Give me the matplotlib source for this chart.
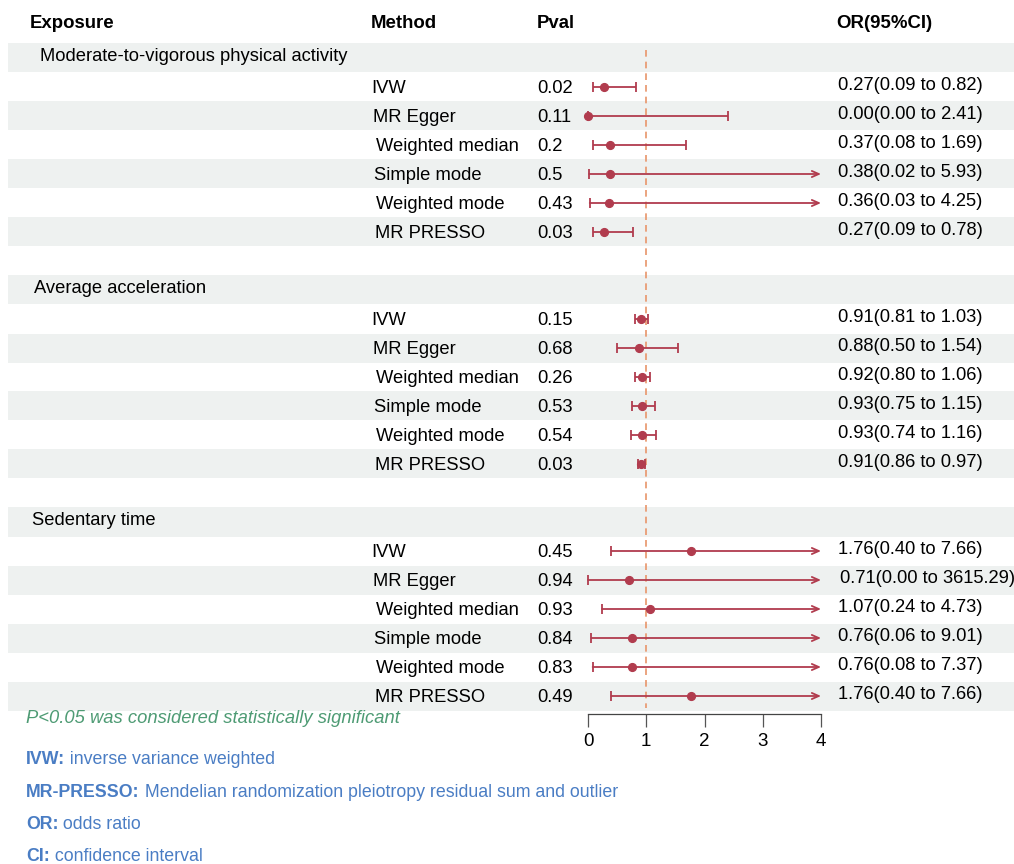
import matplotlib
matplotlib.use("Agg")
import matplotlib.pyplot as plt
import numpy as np

plt.rcParams["font.family"] = ["Liberation Sans", "DejaVu Sans"]

# groups and methods
exposures = ["Moderate-to-vigorous physical activity", "Average acceleration", "Sedentary time"]
methods = ["IVW", "MR Egger", "Weighted median", "Simple mode", "Weighted mode", "MR PRESSO"]

# per exposure: OR, lower, upper, p value text
or_mvpa = [0.27, 0.00, 0.37, 0.38, 0.36, 0.27]
lo_mvpa = [0.09, 0.00, 0.08, 0.02, 0.03, 0.09]
hi_mvpa = [0.82, 2.41, 1.69, 5.93, 4.25, 0.78]
p_mvpa = ["0.02", "0.11", "0.2", "0.5", "0.43", "0.03"]

or_acc = [0.91, 0.88, 0.92, 0.93, 0.93, 0.91]
lo_acc = [0.81, 0.50, 0.80, 0.75, 0.74, 0.86]
hi_acc = [1.03, 1.54, 1.06, 1.15, 1.16, 0.97]
p_acc = ["0.15", "0.68", "0.26", "0.53", "0.54", "0.03"]

or_sed = [1.76, 0.71, 1.07, 0.76, 0.76, 1.76]
lo_sed = [0.40, 0.00, 0.24, 0.06, 0.08, 0.40]
hi_sed = [7.66, 3615.29, 4.73, 9.01, 7.37, 7.66]
p_sed = ["0.45", "0.94", "0.93", "0.84", "0.83", "0.49"]

xticks = [0, 1, 2, 3, 4]
notes = [("IVW:", "inverse variance weighted"),
         ("MR-PRESSO:", "Mendelian randomization pleiotropy residual sum and outlier"),
         ("OR:", "odds ratio"),
         ("CI:", "confidence interval")]

groups = [(or_mvpa, lo_mvpa, hi_mvpa, p_mvpa),
          (or_acc, lo_acc, hi_acc, p_acc),
          (or_sed, lo_sed, hi_sed, p_sed)]

red = "#B13C4E"
band = "#EEF1F0"
W, H = 1014, 864
row0, rowh = 58, 29  # pixel centre of first row, row height
fs = 13.2


def row_of(py):
    return (py - row0) / rowh


fig = plt.figure(figsize=(W / 100, H / 100), dpi=100)
tab = fig.add_axes([0, 0, 1, 1])
tab.set_xlim(0, W)
tab.set_ylim(row_of(H), row_of(0))
tab.axis("off")

# header
hy = row_of(24)
for x, t in [(30, "Exposure"), (371, "Method"), (537, "Pval"), (836, "OR(95%CI)")]:
    tab.text(x, hy, t, fontsize=13.4, fontweight="bold", va="center")

method_x = [371, 373, 376, 374, 376, 375]
grp_x = [40, 34, 32]

rows = []  # (row index, or, lo, hi)
r = 0
for g, (orv, lov, hiv, pv) in enumerate(groups):
    tab.axhspan(r - 0.5, r + 0.5, xmin=8 / W, xmax=1, color=band, lw=0, zorder=0)
    tab.text(grp_x[g], r - 0.06, exposures[g], fontsize=fs, va="center")
    r += 1
    for i, m in enumerate(methods):
        if r % 2 == 0:
            tab.axhspan(r - 0.5, r + 0.5, xmin=8 / W, xmax=1, color=band, lw=0, zorder=0)
        tab.text(method_x[i], r + 0.05, m, fontsize=fs, va="center")
        tab.text(537, r + 0.05, pv[i], fontsize=fs, va="center")
        lab = "{:.2f}({:.2f} to {:.2f})".format(orv[i], lov[i], hiv[i])
        tab.text(838 if hiv[i] < 1000 else 840, r - 0.05, lab, fontsize=fs, va="center")
        rows.append((r, orv[i], lov[i], hiv[i]))
        r += 1
    r += 1

# forest panel
x0, x1 = 588, 821
ybot, ytop = 714, 43
ax = fig.add_axes([x0 / W, (H - ybot) / H, (x1 - x0) / W, (ybot - ytop) / H])
ax.set_xlim(0, 4)
ax.set_ylim(row_of(ybot), row_of(ytop))
ax.patch.set_alpha(0)
for s in ["top", "right", "left"]:
    ax.spines[s].set_visible(False)
ax.spines["bottom"].set_color("#444444")
ax.spines["bottom"].set_linewidth(0.9)
ax.set_yticks([])
ax.set_xticks(xticks)
ax.tick_params(axis="x", length=9, width=0.9, color="#555555", labelsize=13.5, pad=5)

ax.vlines(1, row_of(50), row_of(708), colors="#E8956A", linestyles=(0, (4, 3)), lw=1.2, zorder=1)

for (ri, orv, lo, hi) in rows:
    if hi > 4:
        ax.annotate("", xy=(4, ri), xytext=(lo, ri),
                    arrowprops=dict(arrowstyle="->,head_length=0.5,head_width=0.22",
                                    color=red, lw=1.3, shrinkA=0, shrinkB=0),
                    annotation_clip=False)
        ax.plot([lo], [ri], marker="|", ms=7, mew=1.3, color=red, clip_on=False)
    else:
        ax.errorbar([orv], [ri], xerr=[[orv - lo], [hi - orv]], fmt="none",
                    ecolor=red, elinewidth=1.3, capsize=3.5, capthick=1.3, clip_on=False)
    ax.plot([orv], [ri], "o", ms=5.6, color=red, zorder=3, clip_on=False)

# footnotes
tab.text(26, row_of(719), "P<0.05 was considered statistically significant",
         fontsize=fs, style="italic", color="#4E9B74", va="center")
blue = "#4A7DC4"
for k, (a, b) in enumerate(notes):
    y = row_of(760 + 32.3 * k)
    t = tab.text(26, y, a, fontsize=12.8, fontweight="bold", color=blue, va="center")
    tab.annotate(" " + b, xycoords=t, xy=(1, 0.5), va="center", fontsize=12.8, color=blue)

fig.savefig("out.png", dpi=100)
